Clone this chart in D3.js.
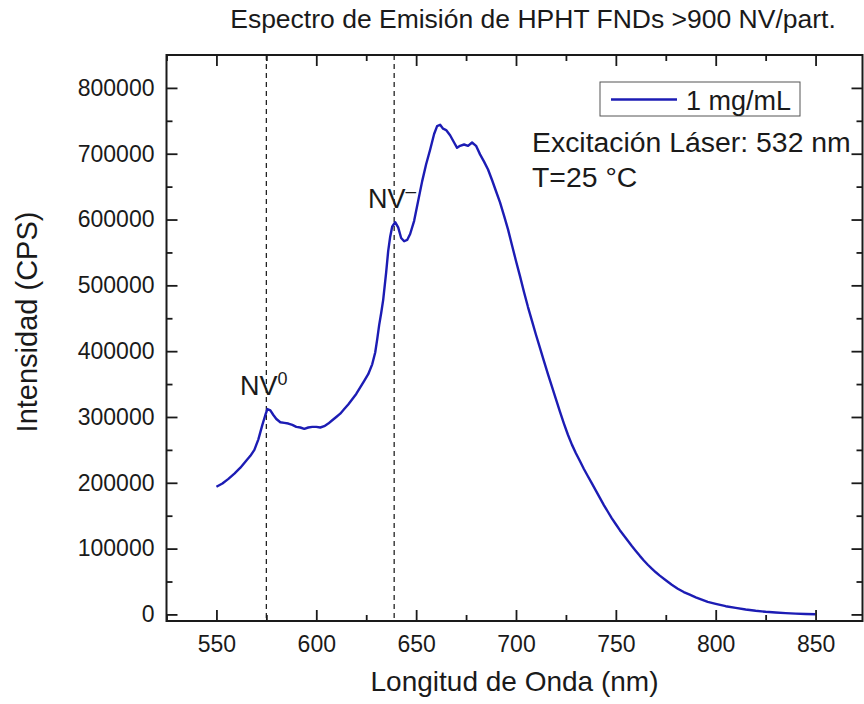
<!DOCTYPE html>
<html>
<head>
<meta charset="utf-8">
<script src="https://cdn.jsdelivr.net/npm/d3@7"></script>
<style>
  html, body { margin: 0; padding: 0; background: #fff; }
  svg { display: block; font-family: "Liberation Sans", Arial, sans-serif; }
</style>
</head>
<body>
<svg id="chart" width="864" height="704"></svg>
<script>
// ---- data ----
const wavelength = [550,553,556,559,562,565,567,569,571,573,574.5,575.5,577,578.5,580,582,584,586,588,590,592,594,596,598,600,602,604,606,608,610,612,614,616,618,620,622,624,626,628,629.5,630.5,631.5,632.5,633.5,635,636,637,638,639.5,641,642.5,644,645.5,647,649,651,653,655,657,659,660.5,662,663.5,665,667,669,670.5,672,674,676,678,680,682,684,686,688,690,692,694,696,698,700,702,704,706,708,710,712,714,716,718,720,722,724,726,728,730,732,734,736,738,740,742,744,746,748,750,752,754,756,758,760,762,764,766,768,770,772,775,778,781,784,787,790,793,796,800,805,810,815,820,825,830,835,840,845,850];
const intensity = [194000,199000,206000,214000,223000,234000,241000,250000,266000,288000,303000,312000,310000,303000,297000,292000,291000,290000,288000,285000,284000,282000,284000,285000,285000,284000,286000,290000,295000,300000,305000,312000,319000,327000,335000,345000,355000,365000,380000,398000,418000,440000,458000,478000,520000,552000,574000,589000,596000,588000,572000,567000,569000,578000,598000,628000,658000,684000,706000,730000,742000,744000,738000,736000,728000,717000,709000,712000,714000,712000,717000,712000,699000,688000,676000,660000,643000,626000,606000,585000,561000,537000,514000,490000,467000,446000,425000,405000,385000,365000,346000,327000,308000,290000,273000,258000,245000,233000,221000,210000,199000,188000,177000,166000,156000,146000,137000,128000,120000,112000,104000,96500,89000,82000,75500,69500,64000,59000,52000,45000,39000,34000,30000,26000,22500,19000,16000,12500,10000,7500,5500,4000,3000,2000,1200,700,300];
const seriesName = "1 mg/mL";
const xTicks = [550,600,650,700,750,800,850];
const xMinorTicks = [525,575,625,675,725,775,825];
const yTicks = [0,100000,200000,300000,400000,500000,600000,700000,800000];
const yMinorTicks = [50000,150000,250000,350000,450000,550000,650000,750000];
const markerLines = [575, 639];
const titleText = "Espectro de Emisión de HPHT FNDs >900 NV/part.";
const xLabel = "Longitud de Onda (nm)";
const yLabel = "Intensidad (CPS)";
const noteLines = ["Excitación Láser: 532 nm", "T=25 °C"];

// ---- layout ----
const L = 166.5, R = 862.5, T = 55, B = 621;
const svg = d3.select("#chart");
const x = d3.scaleLinear().domain([525, 873.5]).range([L, R]);
const y = d3.scaleLinear().domain([-10000, 850000]).range([B, T]);
const ink = "#1a1a1a";
const blue = "#1c1cb4";

// dashed marker lines
svg.append("g").selectAll("line").data(markerLines).join("line")
  .attr("x1", d => x(d)).attr("x2", d => x(d))
  .attr("y1", T).attr("y2", B)
  .attr("stroke", "#222").attr("stroke-width", 1.3)
  .attr("stroke-dasharray", "5,4");

// data line
const pts = wavelength.map((w, i) => [w, intensity[i]]);
svg.append("path").datum(pts)
  .attr("fill", "none").attr("stroke", blue).attr("stroke-width", 2.4)
  .attr("stroke-linejoin", "round")
  .attr("d", d3.line().x(d => x(d[0])).y(d => y(d[1])));

// axes
function styleAxis(g) {
  g.select(".domain").remove();
  g.selectAll(".tick line").attr("stroke", ink).attr("stroke-width", 1.8);
  g.selectAll("text").attr("fill", ink).style("font-size", "23px")
   .style("font-family", "'Liberation Sans', Arial, sans-serif");
}
const MAJ = 11, MIN = 6;
// bottom
svg.append("g").attr("transform", `translate(0,${B})`)
  .call(d3.axisBottom(x).tickValues(xTicks).tickSize(-MAJ).tickPadding(15).tickFormat(d3.format("d")))
  .call(styleAxis);
svg.append("g").attr("transform", `translate(0,${B})`)
  .call(d3.axisBottom(x).tickValues(xMinorTicks).tickSize(-MIN).tickFormat(""))
  .call(styleAxis);
// top
svg.append("g").attr("transform", `translate(0,${T})`)
  .call(d3.axisTop(x).tickValues(xTicks).tickSize(-MAJ).tickFormat(""))
  .call(styleAxis);
svg.append("g").attr("transform", `translate(0,${T})`)
  .call(d3.axisTop(x).tickValues(xMinorTicks).tickSize(-MIN).tickFormat(""))
  .call(styleAxis);
// left
svg.append("g").attr("transform", `translate(${L},0)`)
  .call(d3.axisLeft(y).tickValues(yTicks).tickSize(-MAJ).tickPadding(12).tickFormat(d3.format("d")))
  .call(styleAxis);
svg.append("g").attr("transform", `translate(${L},0)`)
  .call(d3.axisLeft(y).tickValues(yMinorTicks).tickSize(-MIN).tickFormat(""))
  .call(styleAxis);
// right
svg.append("g").attr("transform", `translate(${R},0)`)
  .call(d3.axisRight(y).tickValues(yTicks).tickSize(-MAJ).tickFormat(""))
  .call(styleAxis);
svg.append("g").attr("transform", `translate(${R},0)`)
  .call(d3.axisRight(y).tickValues(yMinorTicks).tickSize(-MIN).tickFormat(""))
  .call(styleAxis);

// frame
svg.append("rect").attr("x", L).attr("y", T).attr("width", R - L).attr("height", B - T)
  .attr("fill", "none").attr("stroke", ink).attr("stroke-width", 2);

// titles
svg.append("text").attr("x", 533).attr("y", 28).attr("text-anchor", "middle")
  .attr("fill", ink).style("font-size", "26.5px").text(titleText);
svg.append("text").attr("x", (L + R) / 2).attr("y", 691).attr("text-anchor", "middle")
  .attr("fill", ink).style("font-size", "28px").text(xLabel);
svg.append("text").attr("transform", `translate(37,322) rotate(-90)`)
  .attr("text-anchor", "middle").attr("fill", ink).style("font-size", "29px").text(yLabel);

// legend
const lg = svg.append("g");
lg.append("rect").attr("x", 600).attr("y", 82).attr("width", 200).attr("height", 34)
  .attr("fill", "#fff").attr("stroke", "#555").attr("stroke-width", 1);
lg.append("line").attr("x1", 611).attr("x2", 677).attr("y1", 99.5).attr("y2", 99.5)
  .attr("stroke", blue).attr("stroke-width", 2.4);
lg.append("text").attr("x", 686).attr("y", 110).attr("fill", ink)
  .style("font-size", "27px").text(seriesName);

// notes
svg.append("g").selectAll("text").data(noteLines).join("text")
  .attr("x", 532).attr("y", (d, i) => 152 + i * 35)
  .attr("fill", ink).style("font-size", "28.4px").text(d => d);

// peak labels
const nv0 = svg.append("text").attr("x", 240).attr("y", 395).attr("fill", ink).style("font-size", "27px");
nv0.append("tspan").text("NV");
nv0.append("tspan").attr("dy", -10).style("font-size", "18px").text("0");
const nvm = svg.append("text").attr("x", 368).attr("y", 208).attr("fill", ink).style("font-size", "27px");
nvm.append("tspan").text("NV");
nvm.append("tspan").attr("dy", -11).style("font-size", "19px").text("–");
</script>
</body>
</html>
